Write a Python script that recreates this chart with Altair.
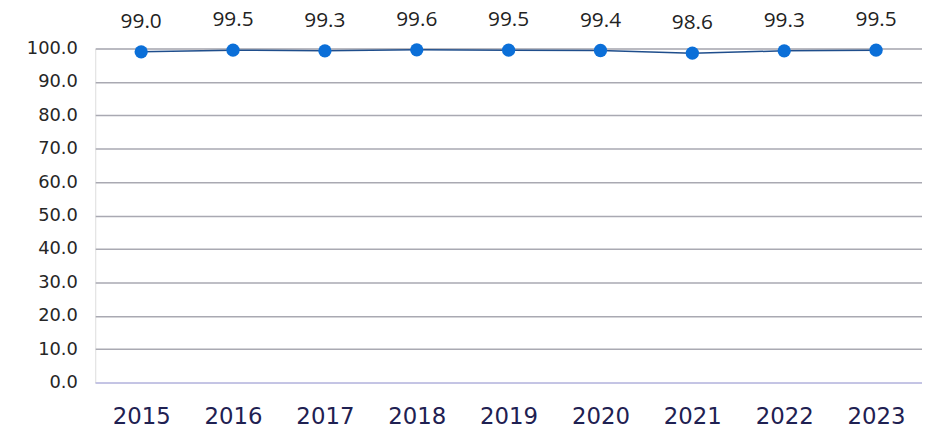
import altair as alt
import pandas as pd

years = ["2015", "2016", "2017", "2018", "2019", "2020", "2021", "2022", "2023"]
values = [99.0, 99.5, 99.3, 99.6, 99.5, 99.4, 98.6, 99.3, 99.5]

df = pd.DataFrame({"year": years, "value": values})

x = alt.X("year:N", sort=years, title=None,
          scale=alt.Scale(paddingInner=0, paddingOuter=0),
          axis=alt.Axis(labelAngle=0, labelFont="DejaVu Sans", labelFontSize=23,
                        labelColor="#1f2152", labelPadding=23, ticks=False,
                        domain=True, domainColor="#c8c8f0", domainWidth=1.5, grid=False))
y = alt.Y("value:Q", title=None,
          scale=alt.Scale(domain=[0, 100], nice=False),
          axis=alt.Axis(values=[0, 10, 20, 30, 40, 50, 60, 70, 80, 90, 100], format=".1f",
                        labelFont="DejaVu Sans", labelFontSize=18,
                        labelColor="#262626", labelLimit=200,
                        labelPadding=18, ticks=False, domain=False,
                        grid=True, gridColor="#a9a9b2", gridWidth=1.5))

base = alt.Chart(df)
line = base.mark_line(color="#1f4e8c", strokeWidth=1.5).encode(x=x, y=y)
pts = base.mark_point(filled=True, size=180, color="#0b6fd8", opacity=1).encode(x=x, y=y)
labels = base.mark_text(font="Open Sans", fontSize=21, color="#222222",
                        baseline="alphabetic", dy=-24).encode(
    x=x, y=y, text=alt.Text("value:Q", format=".1f"))

chart = (line + pts + labels).properties(
    width=834, height=337,
    autosize=alt.AutoSizeParams(type="none"),
    padding={"left": 88, "top": 39, "right": 0, "bottom": 46},
).configure_view(stroke=None).configure(background="white")

chart.save("out.html", embed_options={"renderer": "svg", "actions": False})
